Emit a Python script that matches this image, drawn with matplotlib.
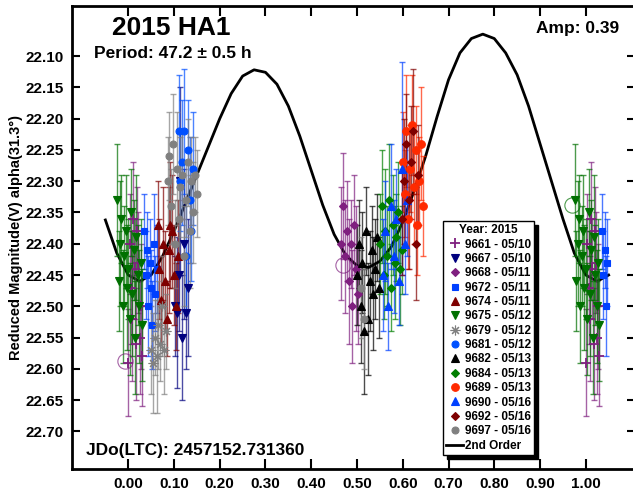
"""
Lightcurve of 2015 HA1 phased to P = 47.2 h, with the 2nd order fit.
"""

import numpy as np
import matplotlib
matplotlib.use("Agg")
import matplotlib.pyplot as plt

plt.rcParams["font.family"] = ["Liberation Sans", "DejaVu Sans"]
plt.rcParams["font.weight"] = "bold"


# ---------------------------------------------------------------------
# Data
# ---------------------------------------------------------------------

SESSION_LABELS = [
    "9661 - 05/10", "9667 - 05/10", "9668 - 05/11", "9672 - 05/11",
    "9674 - 05/11", "9675 - 05/12", "9679 - 05/12", "9681 - 05/12",
    "9682 - 05/13", "9684 - 05/13", "9689 - 05/13", "9690 - 05/16",
    "9692 - 05/16", "9697 - 05/16",
]

S9661_PHASE = [0.000, 0.003, 0.006, 0.009, 0.011, 0.014, 0.017, 0.020,
               0.022, 0.025, 0.027, 0.030]
S9661_MAG = [22.59, 22.40, 22.47, 22.52, 22.36, 22.44, 22.56, 22.38,
             22.43, 22.55, 22.50, 22.58]
S9661_ERR = [0.085, 0.08, 0.09, 0.10, 0.09, 0.08, 0.09, 0.07,
             0.08, 0.09, 0.10, 0.08]

S9667_PHASE = [0.102, 0.106, 0.110, 0.114, 0.118, 0.122, 0.126, 0.130]
S9667_MAG = [22.50, 22.51, 22.45, 22.30, 22.55, 22.40, 22.51, 22.47]
S9667_ERR = [0.08, 0.12, 0.09, 0.15, 0.10, 0.12, 0.09, 0.11]

S9668_PHASE = [0.466, 0.470, 0.474, 0.478, 0.482, 0.486, 0.490, 0.494,
               0.498, 0.502]
S9668_MAG = [22.40, 22.34, 22.42, 22.38, 22.46, 22.40, 22.50, 22.37,
             22.44, 22.48]
S9668_ERR = [0.09, 0.085, 0.09, 0.08, 0.10, 0.07, 0.09, 0.08, 0.10, 0.08]

S9672_PHASE = [0.035, 0.038, 0.041, 0.044, 0.047, 0.050, 0.053, 0.056,
               0.059, 0.062]
S9672_MAG = [22.38, 22.45, 22.41, 22.50, 22.43, 22.47, 22.53, 22.40,
             22.48, 22.44]
S9672_ERR = [0.06, 0.07, 0.06, 0.08, 0.07, 0.06, 0.07, 0.08, 0.06, 0.07]

S9674_PHASE = [0.064, 0.068, 0.072, 0.076, 0.080, 0.084, 0.088, 0.092,
               0.096, 0.100, 0.104, 0.108]
S9674_MAG = [22.37, 22.44, 22.49, 22.40, 22.46, 22.52, 22.41, 22.37,
             22.38, 22.45, 22.50, 22.42]
S9674_ERR = [0.07, 0.08, 0.07, 0.09, 0.08, 0.06, 0.10, 0.10,
             0.09, 0.08, 0.07, 0.09]

S9675_PHASE = [0.976, 0.979, 0.982, 0.985, 0.988, 0.991, 0.994, 0.997,
               0.000, 0.003, 0.006, 0.009, 0.012, 0.015, 0.018, 0.021,
               0.024, 0.027, 0.030]
S9675_MAG = [22.33, 22.46, 22.40, 22.36, 22.50, 22.42, 22.38, 22.47,
             22.44, 22.52, 22.35, 22.48, 22.41, 22.55, 22.39, 22.45,
             22.50, 22.43, 22.53]
S9675_ERR = [0.09, 0.08, 0.10, 0.07, 0.09, 0.08, 0.09, 0.10,
             0.08, 0.09, 0.07, 0.10, 0.08, 0.09, 0.10, 0.08,
             0.09, 0.07, 0.09]

S9679_PHASE = [0.050, 0.054, 0.058, 0.062, 0.066, 0.070, 0.074, 0.078, 0.082]
S9679_MAG = [22.57, 22.59, 22.55, 22.58, 22.53, 22.56, 22.50, 22.57, 22.54]
S9679_ERR = [0.07, 0.08, 0.06, 0.09, 0.07, 0.06, 0.08, 0.07, 0.06]

S9681_PHASE = [0.110, 0.114, 0.118, 0.122, 0.126, 0.130, 0.134, 0.138, 0.142]
S9681_MAG = [22.22, 22.30, 22.27, 22.22, 22.42, 22.25, 22.33, 22.38, 22.28]
S9681_ERR = [0.09, 0.08, 0.10, 0.10, 0.09, 0.08, 0.10, 0.08, 0.09]

S9682_PHASE = [0.500, 0.504, 0.508, 0.512, 0.516, 0.520, 0.524, 0.528,
               0.532, 0.536, 0.540, 0.544, 0.548]
S9682_MAG = [22.45, 22.40, 22.50, 22.43, 22.54, 22.38, 22.52, 22.46,
             22.41, 22.48, 22.44, 22.39, 22.47]
S9682_ERR = [0.08, 0.07, 0.09, 0.08, 0.10, 0.07, 0.09, 0.08,
             0.07, 0.09, 0.08, 0.07, 0.08]

S9684_PHASE = [0.550, 0.554, 0.558, 0.562, 0.566, 0.570, 0.574, 0.578,
               0.582, 0.586, 0.590, 0.594, 0.598]
S9684_MAG = [22.40, 22.34, 22.45, 22.38, 22.42, 22.33, 22.47, 22.37,
             22.43, 22.39, 22.35, 22.44, 22.41]
S9684_ERR = [0.08, 0.09, 0.07, 0.10, 0.08, 0.09, 0.07, 0.08,
             0.09, 0.07, 0.08, 0.09, 0.07]

S9689_PHASE = [0.600, 0.604, 0.608, 0.612, 0.616, 0.620, 0.624, 0.628,
               0.632, 0.636, 0.640, 0.644]
S9689_MAG = [22.27, 22.32, 22.22, 22.36, 22.28, 22.21, 22.31, 22.25,
             22.37, 22.30, 22.24, 22.34]
S9689_ERR = [0.08, 0.07, 0.09, 0.08, 0.07, 0.08, 0.09, 0.07,
             0.08, 0.07, 0.09, 0.08]

S9690_PHASE = [0.556, 0.562, 0.568, 0.574, 0.580, 0.586, 0.592, 0.598,
               0.604, 0.610]
S9690_MAG = [22.45, 22.38, 22.50, 22.34, 22.42, 22.36, 22.46, 22.28,
             22.40, 22.33]
S9690_ERR = [0.09, 0.08, 0.07, 0.10, 0.09, 0.08, 0.07, 0.17, 0.08, 0.09]

S9692_PHASE = [0.598, 0.603, 0.608, 0.613, 0.618, 0.623, 0.628, 0.633]
S9692_MAG = [22.36, 22.30, 22.24, 22.33, 22.27, 22.22, 22.40, 22.29]
S9692_ERR = [0.09, 0.10, 0.08, 0.11, 0.09, 0.10, 0.09, 0.08]

S9697_PHASE = [0.086, 0.090, 0.094, 0.098, 0.102, 0.106, 0.110, 0.114,
               0.118, 0.122, 0.126, 0.130, 0.134, 0.138, 0.142, 0.146,
               0.150, 0.508, 0.516]
S9697_MAG = [22.30, 22.26, 22.34, 22.24, 22.40, 22.28, 22.36, 22.31,
             22.29, 22.42, 22.33, 22.27, 22.38, 22.30, 22.35, 22.29,
             22.32, 22.47, 22.52]
S9697_ERR = [0.07, 0.07, 0.06, 0.08, 0.07, 0.09, 0.06, 0.08,
             0.07, 0.08, 0.06, 0.07, 0.09, 0.07, 0.08, 0.06,
             0.07, 0.08, 0.08]

# circled points
CIRCLE_PHASE = [-0.007, 0.469, 0.969]
CIRCLE_MAG = [22.587, 22.434, 22.338]

# 2nd order fit
CURVE_PHASE = [-0.050, -0.025, 0.000, 0.025, 0.050, 0.075, 0.100, 0.125,
               0.150, 0.175, 0.200, 0.225, 0.250, 0.275, 0.300, 0.325,
               0.350, 0.375, 0.400, 0.425, 0.450, 0.475, 0.500, 0.525,
               0.550, 0.575, 0.600, 0.625, 0.650, 0.675, 0.700, 0.725,
               0.750, 0.775, 0.800, 0.825, 0.850, 0.875, 0.900, 0.925,
               0.950, 0.975, 1.000, 1.025, 1.050]
CURVE_MAG = [22.362, 22.415, 22.450, 22.460, 22.450, 22.420, 22.380, 22.335,
             22.290, 22.245, 22.200, 22.160, 22.132, 22.122, 22.126, 22.145,
             22.180, 22.228, 22.283, 22.338, 22.385, 22.418, 22.435, 22.438,
             22.428, 22.405, 22.365, 22.315, 22.260, 22.197, 22.138, 22.095,
             22.072, 22.065, 22.072, 22.095, 22.130, 22.180, 22.240, 22.300,
             22.360, 22.415, 22.450, 22.460, 22.450]

SESSION_DATA = [
    (S9661_PHASE, S9661_MAG, S9661_ERR), (S9667_PHASE, S9667_MAG, S9667_ERR),
    (S9668_PHASE, S9668_MAG, S9668_ERR), (S9672_PHASE, S9672_MAG, S9672_ERR),
    (S9674_PHASE, S9674_MAG, S9674_ERR), (S9675_PHASE, S9675_MAG, S9675_ERR),
    (S9679_PHASE, S9679_MAG, S9679_ERR), (S9681_PHASE, S9681_MAG, S9681_ERR),
    (S9682_PHASE, S9682_MAG, S9682_ERR), (S9684_PHASE, S9684_MAG, S9684_ERR),
    (S9689_PHASE, S9689_MAG, S9689_ERR), (S9690_PHASE, S9690_MAG, S9690_ERR),
    (S9692_PHASE, S9692_MAG, S9692_ERR), (S9697_PHASE, S9697_MAG, S9697_ERR),
]

# styles
COLORS = ["#7f1f7f", "#00007f", "#7f1f7f", "#0040ff", "#7f0000", "#007000",
          "#808080", "#0050ff", "#000000", "#007f00", "#ff2a00", "#0040ff",
          "#7f0000", "#808080"]
MARKERS = ["+", "v", "D", "s", "^", "v", (8, 2, 0), "o", "^", "D", "o", "^",
           "D", "o"]
SIZES = [7, 5.5, 4.5, 5, 5.5, 5.5, 7, 5, 5.5, 4.5, 5.5, 5.5, 4.5, 5]


# ---------------------------------------------------------------------
# Helpers
# ---------------------------------------------------------------------

def wrap_phase(phase, mag, err):
    """Repeat points near phase 0/1 on the other side of the plot."""
    phase = np.asarray(phase)
    mag = np.asarray(mag)
    err = np.asarray(err)
    hi = phase > 0.95
    lo = phase < 0.05
    ph = np.concatenate([phase, phase[hi] - 1.0, phase[lo] + 1.0])
    mg = np.concatenate([mag, mag[hi], mag[lo]])
    er = np.concatenate([err, err[hi], err[lo]])
    return ph, mg, er


# ---------------------------------------------------------------------
# Plot
# ---------------------------------------------------------------------

fig = plt.figure(figsize=(6.33, 4.91), dpi=100)
ax = fig.add_axes([0.1137, 0.0448, 0.889, 0.943])

curve, = ax.plot(CURVE_PHASE, CURVE_MAG, color="black", lw=2.0, zorder=1,
                 label="2nd Order")

handles = []
for i, (ph, mg, er) in enumerate(SESSION_DATA):
    x, y, e = wrap_phase(ph, mg, er)
    ax.errorbar(x, y, yerr=e, fmt="none", ecolor=COLORS[i], alpha=0.7,
                elinewidth=1.0, capsize=2.5, capthick=1.0, zorder=2 + i * 0.01)
    h, = ax.plot(x, y, ls="none", marker=MARKERS[i], ms=SIZES[i],
                 color=COLORS[i], mec=COLORS[i],
                 mew=1.3 if MARKERS[i] == "+" else 0.8,
                 zorder=3 + i * 0.01, label=SESSION_LABELS[i])
    handles.append(h)

ax.plot(CIRCLE_PHASE[:2], CIRCLE_MAG[:2], ls="none", marker="o", ms=11,
        mfc="none", mec="#7f1f7f", mew=0.8, alpha=0.7, zorder=4)
ax.plot(CIRCLE_PHASE[2:], CIRCLE_MAG[2:], ls="none", marker="o", ms=11,
        mfc="none", mec="#007000", mew=0.8, alpha=0.7, zorder=4)

ax.set_xlim(-0.123, 1.107)
ax.set_ylim(22.76, 22.02)
ax.set_xticks(np.arange(0.0, 1.01, 0.1))
ax.set_xticklabels([f"{t:.2f}" for t in np.arange(0.0, 1.01, 0.1)])
ax.set_yticks(np.arange(22.10, 22.701, 0.05))
ax.set_yticklabels([f"{t:.2f}" for t in np.arange(22.10, 22.701, 0.05)])
ax.tick_params(axis="both", direction="in", labelsize=11, width=1.5,
               length=7, top=True, right=True, pad=6)
ax.tick_params(axis="y", which="both", right=True, length=6)
for side in ["left", "bottom", "top"]:
    ax.spines[side].set_linewidth(2.0)
ax.spines["right"].set_visible(False)
for lbl in ax.get_xticklabels() + ax.get_yticklabels():
    lbl.set_fontweight("bold")

ax.set_ylabel("Reduced Magnitude(V) alpha(31.3°)", fontsize=10.5,
              fontweight="bold", labelpad=2)

fig.text(0.270, 0.943, "2015 HA1", fontsize=19, fontweight="bold",
         ha="center", va="center")
fig.text(0.273, 0.892, "Period: 47.2 ± 0.5 h", fontsize=12.5,
         fontweight="bold", ha="center", va="center")
fig.text(0.913, 0.941, "Amp: 0.39", fontsize=12.5, fontweight="bold",
         ha="center", va="center")
fig.text(0.136, 0.0815, "JDo(LTC): 2457152.731360", fontsize=12.5,
         fontweight="bold", ha="left", va="center")

leg = ax.legend(handles + [curve], SESSION_LABELS + ["2nd Order"],
                title="Year: 2015", loc="upper left",
                bbox_to_anchor=(0.659, 0.535), fontsize=8.5,
                title_fontproperties={"weight": "bold", "size": 8.5},
                labelspacing=0.2, handlelength=1.5, handletextpad=0.15,
                borderpad=0.25, borderaxespad=0.0, fancybox=False,
                framealpha=1.0, edgecolor="black",
                shadow={"color": "black", "alpha": 1.0, "ox": 3, "oy": -3})
leg.get_frame().set_linewidth(1.0)
for t in leg.get_texts():
    t.set_fontweight("bold")

fig.savefig("out.png", dpi=100)
